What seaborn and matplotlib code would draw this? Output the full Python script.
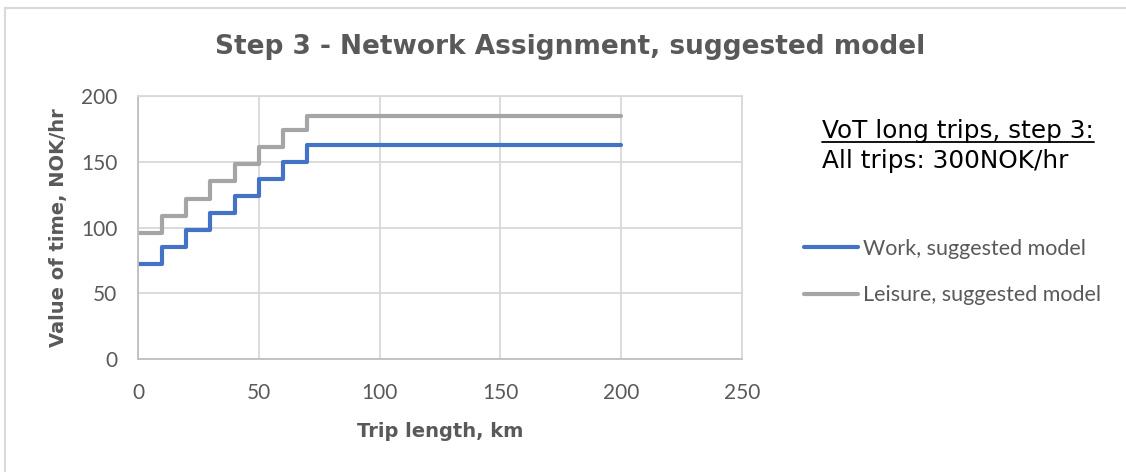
import matplotlib
matplotlib.use("Agg")
import matplotlib.pyplot as plt
import pandas as pd
import seaborn as sns
from matplotlib.lines import Line2D

# step breakpoints (km) and value of time (NOK/hr)
trip_km = [0, 10, 20, 30, 40, 50, 60, 70, 200]
work_vot = [72, 85, 98, 111, 124, 137, 150, 163, 163]
leisure_vot = [96, 109, 122, 135, 148, 161, 174, 185, 185]

series_names = ["Work, suggested model", "Leisure, suggested model"]
series_colors = ["#4472C4", "#A5A5A5"]

x_ticks = [0, 50, 100, 150, 200, 250]
y_ticks = [0, 50, 100, 150, 200]

TEXT_GREY = "#595959"
GRID_GREY = "#d9d9d9"
BODY = ["Lato", "DejaVu Sans"]

df = pd.DataFrame({
    "km": trip_km * 2,
    "vot": work_vot + leisure_vot,
    "series": [series_names[0]] * len(trip_km) + [series_names[1]] * len(trip_km),
})

sns.set_style("white")
plt.rcParams["font.family"] = ["DejaVu Sans"]

fig = plt.figure(figsize=(11.26, 4.72), dpi=100)
ax = fig.add_axes([138 / 1126, 1 - 359 / 472, (742 - 138) / 1126, (359 - 96) / 472])

sns.lineplot(
    data=df, x="km", y="vot", hue="series", hue_order=series_names,
    palette=series_colors, drawstyle="steps-post", linewidth=3,
    legend=False, ax=ax,
)

ax.set_xlim(0, 250)
ax.set_ylim(0, 200)
ax.set_xticks(x_ticks)
ax.set_yticks(y_ticks)
ax.grid(True, color=GRID_GREY, linewidth=1.3)
ax.set_axisbelow(True)
for side, spine in ax.spines.items():
    spine.set_color(GRID_GREY if side in ("top", "right") else "#bfbfbf")
    spine.set_linewidth(1.3)
ax.tick_params(axis="x", length=0, pad=17, labelcolor=TEXT_GREY)
ax.tick_params(axis="y", length=0, pad=15, labelcolor=TEXT_GREY)
for lab in ax.get_xticklabels() + ax.get_yticklabels():
    lab.set_family(BODY)
    lab.set_fontsize(15)

ax.set_xlabel("Trip length, km", fontsize=14, fontweight="bold", color=TEXT_GREY,
              labelpad=14)
ax.set_ylabel("Value of time, NOK/hr", fontsize=14, fontweight="bold", color=TEXT_GREY,
              labelpad=9)

fig.text(570 / 1126, 1 - 47 / 472, "Step 3 - Network Assignment, suggested model",
         ha="center", va="center", fontsize=19, fontweight="bold", color=TEXT_GREY)

handles = [Line2D([], [], color=c, linewidth=3) for c in series_colors]
leg = fig.legend(handles, series_names, loc="center left",
                 bbox_to_anchor=(804 / 1126, 1 - 272 / 472), frameon=False,
                 borderpad=0, borderaxespad=0,
                 handlelength=2.5, handletextpad=0.25, labelspacing=1.25,
                 prop={"family": BODY, "size": 15.5})
for t in leg.get_texts():
    t.set_color(TEXT_GREY)

note1 = fig.text(822 / 1126, 1 - 131 / 472, "VoT long trips, step 3:",
                 ha="left", va="center", fontsize=17.8, color="black")
fig.text(822 / 1126, 1 - 161 / 472, "All trips: 300NOK/hr",
         ha="left", va="center", fontsize=17.8, color="black")

# underline for the first note line
fig.canvas.draw()
bb = note1.get_window_extent().transformed(fig.transFigure.inverted())
fig.add_artist(Line2D([bb.x0, bb.x1], [bb.y0 + 0.002, bb.y0 + 0.002],
                      transform=fig.transFigure, color="black", linewidth=1.3))

# chart-area border (top and left edges visible)
fig.add_artist(Line2D([5 / 1126, 1], [1 - 8 / 472, 1 - 8 / 472],
                      transform=fig.transFigure, color=GRID_GREY, linewidth=1.5))
fig.add_artist(Line2D([5 / 1126, 5 / 1126], [0, 1 - 8 / 472],
                      transform=fig.transFigure, color=GRID_GREY, linewidth=1.5))

fig.savefig("out.png", dpi=100)
